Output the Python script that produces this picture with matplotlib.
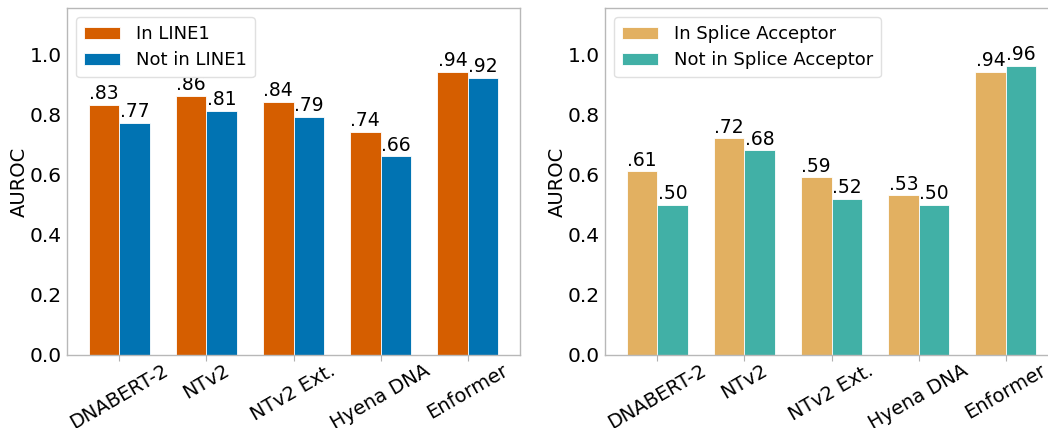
import matplotlib
matplotlib.use("Agg")
import matplotlib.pyplot as plt
import numpy as np

models = ["DNABERT-2", "NTv2", "NTv2 Ext.", "Hyena DNA", "Enformer"]

line1_in = [0.83, 0.86, 0.84, 0.74, 0.94]
line1_out = [0.77, 0.81, 0.79, 0.66, 0.92]

splice_in = [0.61, 0.72, 0.59, 0.53, 0.94]
splice_out = [0.50, 0.68, 0.52, 0.50, 0.96]

panels = [
    (line1_in, line1_out, "In LINE1", "Not in LINE1", "#d55e00", "#0173b2"),
    (splice_in, splice_out, "In Splice Acceptor", "Not in Splice Acceptor", "#e2b061", "#41b0a6"),
]

W, H = 1048, 428
fig = plt.figure(figsize=(W / 100, H / 100), dpi=100)

# axes placement in pixels
ax_left_px = [67, 605]
ax_w_px = 453
ax_top_px, ax_bot_px = 8, 355
ylabel_gap_px = 38

x = np.arange(len(models))
width = 0.35

for (a, b, la, lb, ca, cb), lp in zip(panels, ax_left_px):
    ax = fig.add_axes([lp / W, (H - ax_bot_px) / H, ax_w_px / W, (ax_bot_px - ax_top_px) / H])
    ba = ax.bar(x - width / 2, a, width, color=ca, label=la, edgecolor="white", linewidth=0.6)
    bb = ax.bar(x + width / 2, b, width, color=cb, label=lb, edgecolor="white", linewidth=0.6)
    for bars, vals in ((ba, a), (bb, b)):
        for r, v in zip(bars, vals):
            ax.text(r.get_x() + r.get_width() / 2, v + 0.006, f"{v:.2f}".lstrip("0"),
                    ha="center", va="bottom", fontsize=13.5)
    ax.set_xlim(-0.6, 4.6)
    ax.set_ylim(0, 1.153)
    ax.set_yticks([0.0, 0.2, 0.4, 0.6, 0.8, 1.0])
    ax.set_xticks(x)
    ax.set_xticklabels(models, rotation=30, ha="center", fontsize=14)
    ax.tick_params(axis="y", length=0, labelsize=14.5, pad=4)
    ax.tick_params(axis="x", length=4, color="#b0b0b0", pad=0)
    ax.set_ylabel("AUROC", fontsize=14)
    ax.yaxis.set_label_coords(-ylabel_gap_px / ax_w_px, 0.5)
    for s in ax.spines.values():
        s.set_color("#b8b8b8")
        s.set_linewidth(1.0)
    ax.legend(loc="upper left", fontsize=13, handlelength=2.0, handleheight=0.7,
              borderpad=0.45, labelspacing=0.45, handletextpad=0.85,
              framealpha=1.0, edgecolor="#e0e0e0")

fig.savefig("out.png", dpi=100)
